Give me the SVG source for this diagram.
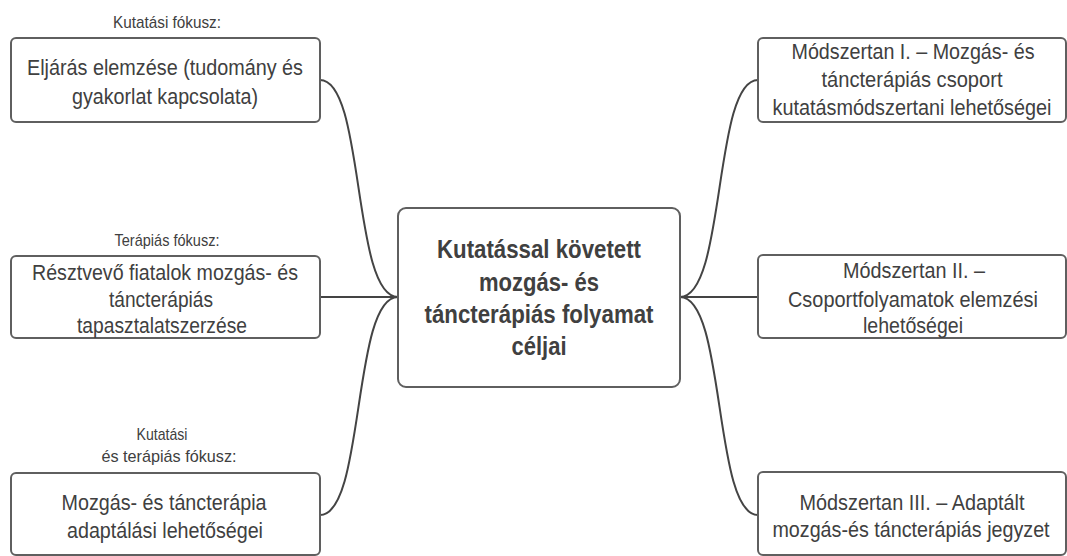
<svg xmlns="http://www.w3.org/2000/svg" width="1067" height="556" viewBox="0 0 1067 556">
  <style>
    .box { fill: #ffffff; stroke: #5f5f5f; stroke-width: 2; }
    .link { fill: none; stroke: #444444; stroke-width: 2; }
    .t { font-family: "Liberation Sans", Arial, sans-serif; font-size: 22px; fill: #404040; text-anchor: middle; }
    .lbl { font-family: "Liberation Sans", Arial, sans-serif; font-size: 17px; fill: #404040; text-anchor: middle; }
    .main { font-family: "Liberation Sans", Arial, sans-serif; font-size: 25px; font-weight: bold; fill: #404040; text-anchor: middle; }
  </style>
  <rect width="1067" height="556" fill="#ffffff"/>

  <!-- connectors -->
  <g id="connectors">
    <path class="link" d="M320,80 C365,80 352,297 398,297"/>
    <path class="link" d="M320,297 L398,297"/>
    <path class="link" d="M320,515 C365,515 352,297 398,297"/>
    <path class="link" d="M758,80 C713,80 726,297 680,297"/>
    <path class="link" d="M758,297 L680,297"/>
    <path class="link" d="M758,515 C713,515 726,297 680,297"/>
  </g>

  <!-- central node -->
  <g id="center">
    <rect class="box" x="398" y="208" width="282" height="179" rx="8"/>
    <text class="main" x="539" y="258" textLength="204" lengthAdjust="spacingAndGlyphs">Kutatással követett</text>
    <text class="main" x="539" y="291" textLength="120" lengthAdjust="spacingAndGlyphs">mozgás- és</text>
    <text class="main" x="539" y="323" textLength="229" lengthAdjust="spacingAndGlyphs">táncterápiás folyamat</text>
    <text class="main" x="539" y="355" textLength="55" lengthAdjust="spacingAndGlyphs">céljai</text>
  </g>

  <!-- left: research focus -->
  <g id="left-top">
    <text class="lbl" x="167" y="28" textLength="108" lengthAdjust="spacingAndGlyphs">Kutatási fókusz:</text>
    <rect class="box" x="11" y="38" width="309" height="84" rx="5"/>
    <text class="t" x="165" y="75" textLength="276" lengthAdjust="spacingAndGlyphs">Eljárás elemzése (tudomány és</text>
    <text class="t" x="165" y="104" textLength="186" lengthAdjust="spacingAndGlyphs">gyakorlat kapcsolata)</text>
  </g>

  <!-- left: therapy focus -->
  <g id="left-middle">
    <text class="lbl" x="167" y="246" textLength="105" lengthAdjust="spacingAndGlyphs">Terápiás fókusz:</text>
    <rect class="box" x="11" y="256" width="309" height="82" rx="5"/>
    <text class="t" x="165" y="280" textLength="266" lengthAdjust="spacingAndGlyphs">Résztvevő fiatalok mozgás- és</text>
    <text class="t" x="161" y="307" textLength="104" lengthAdjust="spacingAndGlyphs">táncterápiás</text>
    <text class="t" x="162" y="333" textLength="170" lengthAdjust="spacingAndGlyphs">tapasztalatszerzése</text>
  </g>

  <!-- left: research and therapy focus -->
  <g id="left-bottom">
    <text class="lbl" x="162" y="440" textLength="51" lengthAdjust="spacingAndGlyphs">Kutatási</text>
    <text class="lbl" x="169" y="462" textLength="135" lengthAdjust="spacingAndGlyphs">és terápiás fókusz:</text>
    <rect class="box" x="11" y="473" width="309" height="82" rx="5"/>
    <text class="t" x="164" y="510" textLength="205" lengthAdjust="spacingAndGlyphs">Mozgás- és táncterápia</text>
    <text class="t" x="165" y="538" textLength="196" lengthAdjust="spacingAndGlyphs">adaptálási lehetőségei</text>
  </g>

  <!-- right: methodology I -->
  <g id="right-top">
    <rect class="box" x="758" y="38" width="308" height="84" rx="5"/>
    <text class="t" x="913" y="59" textLength="243" lengthAdjust="spacingAndGlyphs">Módszertan I. – Mozgás- és</text>
    <text class="t" x="912" y="87" textLength="181" lengthAdjust="spacingAndGlyphs">táncterápiás csoport</text>
    <text class="t" transform="translate(912,115) scale(0.9,1)" x="0" y="0" textLength="310" lengthAdjust="spacingAndGlyphs">kutatásmódszertani lehetőségei</text>
  </g>

  <!-- right: methodology II -->
  <g id="right-middle">
    <rect class="box" x="758" y="255" width="308" height="83" rx="5"/>
    <text class="t" x="914" y="278" textLength="142" lengthAdjust="spacingAndGlyphs">Módszertan II. –</text>
    <text class="t" x="913" y="307" textLength="250" lengthAdjust="spacingAndGlyphs">Csoportfolyamatok elemzési</text>
    <text class="t" x="913" y="333" textLength="100" lengthAdjust="spacingAndGlyphs">lehetőségei</text>
  </g>

  <!-- right: methodology III -->
  <g id="right-bottom">
    <rect class="box" x="758" y="472" width="308" height="83" rx="5"/>
    <text class="t" x="912" y="510" textLength="225" lengthAdjust="spacingAndGlyphs">Módszertan III. – Adaptált</text>
    <text class="t" transform="translate(911,537) scale(0.9,1)" x="0" y="0" textLength="308" lengthAdjust="spacingAndGlyphs">mozgás-és táncterápiás jegyzet</text>
  </g>
</svg>
